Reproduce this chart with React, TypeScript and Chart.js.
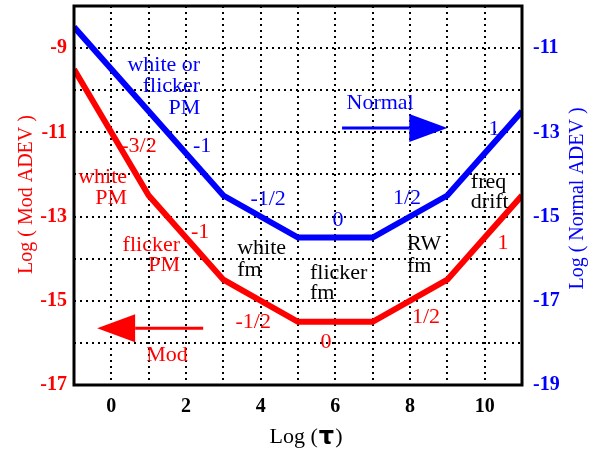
import React, { useEffect, useRef } from "react";
import { Chart, registerables } from "chart.js";

Chart.register(...registerables);

// ---- data ----
const logTauMod = [-1, 1, 3, 5, 7, 9, 11];
const modAdev = [-9.5, -12.5, -14.5, -15.5, -15.5, -14.5, -12.5];
const logTauNormal = [-1, 3, 5, 7, 9, 11];
const normalAdev = [-10.5, -14.5, -15.5, -15.5, -14.5, -12.5];
const xTickLabels = [0, 2, 4, 6, 8, 10];
const modTickLabels = [-9, -11, -13, -15, -17];
const normalTickLabels = [-11, -13, -15, -17, -19];

const RED = "#ff0000";
const BLUE = "#0000ff";
const BLACK = "#000000";
const SERIF = "'Liberation Serif', 'Times New Roman', Times, serif";

type Note = {
  lines: string[];
  x: number;
  y: number;
  align: CanvasTextAlign;
  color: string;
  gap: number;
};

const notes: Note[] = [
  { lines: ["white or", "flicker", "PM"], x: 2.38, y: -9.4, align: "right", color: BLUE, gap: 21.5 },
  { lines: ["white", "PM"], x: 0.42, y: -12.06, align: "right", color: RED, gap: 21 },
  { lines: ["flicker", "PM"], x: 1.84, y: -13.68, align: "right", color: RED, gap: 20 },
  { lines: ["white", "fm"], x: 3.37, y: -13.75, align: "left", color: BLACK, gap: 22 },
  { lines: ["flicker", "fm"], x: 5.32, y: -14.34, align: "left", color: BLACK, gap: 20 },
  { lines: ["RW", "fm"], x: 7.92, y: -13.65, align: "left", color: BLACK, gap: 22 },
  { lines: ["freq", "drift"], x: 9.63, y: -12.18, align: "left", color: BLACK, gap: 20 },
  { lines: ["-1"], x: 2.43, y: -11.32, align: "center", color: BLUE, gap: 0 },
  { lines: ["-3/2"], x: 0.74, y: -11.32, align: "center", color: RED, gap: 0 },
  { lines: ["-1"], x: 2.38, y: -13.37, align: "center", color: RED, gap: 0 },
  { lines: ["-1/2"], x: 4.2, y: -12.58, align: "center", color: BLUE, gap: 0 },
  { lines: ["0"], x: 6.07, y: -13.08, align: "center", color: BLUE, gap: 0 },
  { lines: ["-1/2"], x: 3.8, y: -15.5, align: "center", color: RED, gap: 0 },
  { lines: ["0"], x: 5.75, y: -15.98, align: "center", color: RED, gap: 0 },
  { lines: ["1/2"], x: 7.92, y: -12.56, align: "center", color: BLUE, gap: 0 },
  { lines: ["1/2"], x: 8.43, y: -15.39, align: "center", color: RED, gap: 0 },
  { lines: ["1"], x: 10.49, y: -13.63, align: "center", color: RED, gap: 0 },
  { lines: ["1"], x: 10.25, y: -10.92, align: "center", color: BLUE, gap: 0 },
  { lines: ["Normal"], x: 7.2, y: -10.3, align: "center", color: BLUE, gap: 0 },
  { lines: ["Mod"], x: 1.49, y: -16.29, align: "center", color: RED, gap: 0 },
];

type Arrow = { tail: number; tip: number; y: number; color: string };
const arrows: Arrow[] = [
  { tail: 2.46, tip: -0.38, y: -15.65, color: RED },
  { tail: 6.18, tip: 9.0, y: -10.9, color: BLUE },
];

const overlay = {
  id: "overlay",
  afterDatasetsDraw(chart: any) {
    const { ctx, chartArea: a, scales } = chart;
    const xs = scales.x;
    const ys = scales.y;
    ctx.save();
    ctx.setLineDash([]);
    // text notes
    ctx.font = `22px ${SERIF}`;
    ctx.textBaseline = "middle";
    for (const n of notes) {
      ctx.fillStyle = n.color;
      ctx.textAlign = n.align;
      const px = xs.getPixelForValue(n.x);
      const py = ys.getPixelForValue(n.y);
      n.lines.forEach((t, i) => ctx.fillText(t, px, py + i * n.gap));
    }
    // arrows
    for (const ar of arrows) {
      const x0 = xs.getPixelForValue(ar.tail);
      const x1 = xs.getPixelForValue(ar.tip);
      const y = ys.getPixelForValue(ar.y);
      const dir = Math.sign(x1 - x0);
      const headLen = 38;
      const half = 14;
      const xb = x1 - dir * headLen;
      ctx.strokeStyle = ar.color;
      ctx.fillStyle = ar.color;
      ctx.lineWidth = 3;
      ctx.beginPath();
      ctx.moveTo(x0, y);
      ctx.lineTo(xb, y);
      ctx.stroke();
      ctx.beginPath();
      ctx.moveTo(x1, y);
      ctx.lineTo(xb, y - half);
      ctx.lineTo(xb, y + half);
      ctx.closePath();
      ctx.fill();
    }
    // frame
    ctx.strokeStyle = BLACK;
    ctx.lineWidth = 3;
    ctx.strokeRect(a.left, a.top, a.right - a.left, a.bottom - a.top);
    // axis titles
    ctx.font = `20px ${SERIF}`;
    ctx.textAlign = "center";
    ctx.textBaseline = "middle";
    const midY = (a.top + a.bottom) / 2;
    ctx.fillStyle = RED;
    ctx.save();
    ctx.translate(27, midY - 1);
    ctx.rotate(-Math.PI / 2);
    ctx.fillText("Log ( Mod ADEV )", 0, 0);
    ctx.restore();
    ctx.fillStyle = BLUE;
    ctx.save();
    ctx.translate(578, midY + 3);
    ctx.rotate(-Math.PI / 2);
    ctx.fillText("Log ( Normal ADEV )", 0, 0);
    ctx.restore();
    // bottom title with bold tau
    ctx.fillStyle = BLACK;
    const partA = "Log (";
    const partB = "\u03C4";
    const partC = ")";
    const fA = `22px ${SERIF}`;
    const fB = `bold 24px 'DejaVu Sans', sans-serif`;
    ctx.font = fA;
    const wA = ctx.measureText(partA).width;
    const wC = ctx.measureText(partC).width;
    ctx.font = fB;
    const wB = ctx.measureText(partB).width + 2;
    const total = wA + wB + wC;
    let sx = 306 - total / 2;
    const ty = 437;
    ctx.textAlign = "left";
    ctx.font = fA;
    ctx.fillText(partA, sx, ty);
    sx += wA + 1;
    ctx.font = fB;
    ctx.fillText(partB, sx, ty + 1);
    sx += wB - 1;
    ctx.font = fA;
    ctx.fillText(partC, sx, ty);
    ctx.restore();
  },
};

function fitY(width: number) {
  return (s: any) => {
    s.width = width;
    s.paddingTop = 0;
    s.paddingBottom = 0;
  };
}

export default function App() {
  const ref = useRef<HTMLCanvasElement | null>(null);
  useEffect(() => {
    if (!ref.current) return;
    const chart = new Chart(ref.current, {
      type: "line",
      data: {
        datasets: [
          {
            label: "Mod ADEV",
            data: logTauMod.map((x, i) => ({ x, y: modAdev[i] })),
            borderColor: RED,
            backgroundColor: RED,
            borderWidth: 6,
            pointRadius: 0,
            tension: 0,
            yAxisID: "y",
          },
          {
            label: "Normal ADEV",
            data: logTauNormal.map((x, i) => ({ x, y: normalAdev[i] })),
            borderColor: BLUE,
            backgroundColor: BLUE,
            borderWidth: 6,
            pointRadius: 0,
            tension: 0,
            yAxisID: "y2",
          },
        ],
      },
      options: {
        responsive: false,
        animation: false,
        layout: { padding: { top: 6, left: 0, right: 0, bottom: 0 }, autoPadding: false },
        plugins: { legend: { display: false }, tooltip: { enabled: false } },
        scales: {
          x: {
            type: "linear",
            min: -1,
            max: 11,
            afterFit: (s: any) => {
              s.height = 65;
              s.paddingLeft = 0;
              s.paddingRight = 0;
            },
            ticks: {
              stepSize: 1,
              padding: 10,
              color: BLACK,
              font: { family: SERIF, size: 20, weight: "bold" },
              maxRotation: 0,
              autoSkip: false,
              callback: (v: any) => (xTickLabels.includes(Number(v)) ? String(v) : ""),
            },
            grid: { color: BLACK, lineWidth: 2, drawTicks: false },
            border: { display: false, dash: [2, 4] },
          },
          y: {
            type: "linear",
            position: "left",
            min: -17,
            max: -8,
            afterFit: fitY(74),
            ticks: {
              stepSize: 1,
              padding: 7,
              color: RED,
              font: { family: SERIF, size: 20, weight: "bold" },
              autoSkip: false,
              callback: (v: any) => (modTickLabels.includes(Number(v)) ? String(v) : ""),
            },
            grid: { color: BLACK, lineWidth: 2, drawTicks: false },
            border: { display: false, dash: [2, 4] },
          },
          y2: {
            type: "linear",
            position: "right",
            min: -19,
            max: -10,
            afterFit: fitY(70),
            ticks: {
              stepSize: 1,
              padding: 11,
              color: BLUE,
              font: { family: SERIF, size: 20, weight: "bold" },
              autoSkip: false,
              callback: (v: any) => (normalTickLabels.includes(Number(v)) ? String(v) : ""),
            },
            grid: { display: false, drawTicks: false },
            border: { display: false },
          },
        },
      },
      plugins: [overlay],
    });
    return () => chart.destroy();
  }, []);
  return (
    <div style={{ position: "absolute", left: 0, top: 0, width: 592, height: 450, background: "#fff" }}>
      <canvas ref={ref} width={592} height={450} style={{ display: "block" }} />
    </div>
  );
}
